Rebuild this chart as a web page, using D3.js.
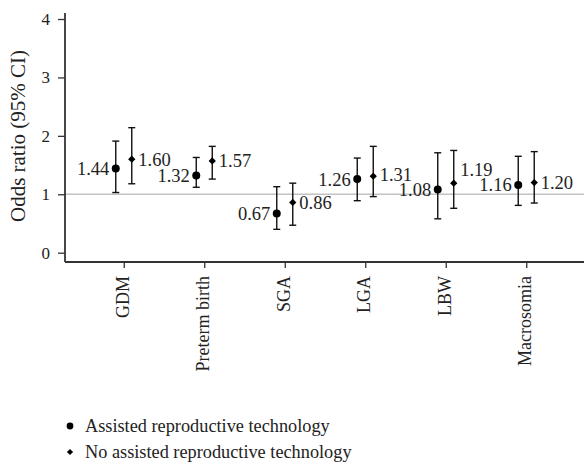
<!DOCTYPE html>
<html>
<head>
<meta charset="utf-8">
<script src="https://cdn.jsdelivr.net/npm/d3@7"></script>
<style>
  body { margin: 0; background: #fff; }
  svg text { font-family: "Liberation Serif", "DejaVu Serif", serif; fill: #222; }
</style>
</head>
<body>
<div class="graph"></div>
<script>
//data//
let outcomes = ['GDM', 'Preterm birth', 'SGA', 'LGA', 'LBW', 'Macrosomia'];

let artOR = [1.44, 1.32, 0.67, 1.26, 1.08, 1.16];
let artLow = [1.03, 1.12, 0.40, 0.89, 0.58, 0.81];
let artHigh = [1.91, 1.63, 1.13, 1.62, 1.71, 1.65];

let noArtOR = [1.60, 1.57, 0.86, 1.31, 1.19, 1.20];
let noArtLow = [1.18, 1.26, 0.47, 0.96, 0.76, 0.85];
let noArtHigh = [2.14, 1.82, 1.19, 1.82, 1.75, 1.73];

let yTicks = [0, 1, 2, 3, 4];
let legendLabels = ['Assisted reproductive technology', 'No assisted reproductive technology'];

//various constants//
let w = 584;
let h = 465;
let plotLeft = 65;
let plotTop = 19;
let plotBottom = 262;
let offset = 8;
let labelSize = 18.5;

let svg = d3.select('.graph')
    .append('svg')
    .attr('width', w)
    .attr('height', h);

let xScale = d3.scalePoint()
    .domain(outcomes)
    .range([plotLeft, w + 1])
    .padding(0.73);

let yScale = d3.scaleLinear()
    .domain([0, 4])
    .range([252.7, plotTop]);

// reference line at OR = 1
svg.append('line')
    .attr('x1', plotLeft)
    .attr('x2', w)
    .attr('y1', yScale(1))
    .attr('y2', yScale(1))
    .attr('stroke', '#c2c2c2')
    .attr('stroke-width', 1.5);

// axes
let yAxis = d3.axisLeft(yScale)
    .tickValues(yTicks)
    .tickFormat(d3.format('d'))
    .tickSize(7)
    .tickPadding(8)
    .tickSizeOuter(0);
let gy = svg.append('g')
    .attr('transform', 'translate(' + plotLeft + ',0)')
    .call(yAxis);
gy.select('.domain').attr('d', 'M0,' + (plotTop - 6) + 'V' + plotBottom);

let xAxis = d3.axisBottom(xScale).tickSize(6).tickSizeOuter(0);
let gx = svg.append('g')
    .attr('transform', 'translate(0,' + plotBottom + ')')
    .call(xAxis);
gx.select('.domain').attr('d', 'M' + plotLeft + ',0H' + w);

svg.selectAll('.domain').attr('stroke', '#333').attr('stroke-width', 1.8);
svg.selectAll('.tick line').attr('stroke', '#333').attr('stroke-width', 1.3);
svg.selectAll('g').attr('font-family', null);

gy.selectAll('text')
    .style('font-size', '17px')
    .attr('fill', '#222');

gx.selectAll('text')
    .style('font-size', '18px')
    .attr('fill', '#222')
    .attr('transform', 'rotate(-90)')
    .attr('text-anchor', 'end')
    .attr('dy', '0.25em')
    .attr('x', -14)
    .attr('y', 0);

svg.append('text')
    .attr('transform', 'translate(18,' + 136 + ') rotate(-90)')
    .attr('text-anchor', 'middle')
    .attr('dy', '0.35em')
    .style('font-size', '21px')
    .text('Odds ratio (95% CI)');

// error bars + points
function drawSeries(or, lo, hi, shift, symbolType, side) {
    let g = svg.append('g');
    let cx = (d, i) => xScale(outcomes[i]) + shift;

    g.selectAll('.whisker')
        .data(or)
        .enter()
        .append('line')
        .attr('x1', cx)
        .attr('x2', cx)
        .attr('y1', (d, i) => yScale(lo[i]))
        .attr('y2', (d, i) => yScale(hi[i]))
        .attr('stroke', '#111')
        .attr('stroke-width', 1.4);

    [lo, hi].forEach(arr => {
        g.selectAll(null)
            .data(arr)
            .enter()
            .append('line')
            .attr('x1', (d, i) => cx(d, i) - 3.5)
            .attr('x2', (d, i) => cx(d, i) + 3.5)
            .attr('y1', d => yScale(d))
            .attr('y2', d => yScale(d))
            .attr('stroke', '#111')
            .attr('stroke-width', 1.4);
    });

    let symbol = d3.symbol().type(symbolType).size(symbolType === d3.symbolCircle ? 50 : 34);
    g.selectAll('.pt')
        .data(or)
        .enter()
        .append('path')
        .attr('d', symbol)
        .attr('transform', (d, i) => 'translate(' + cx(d, i) + ',' + yScale(d) + ')')
        .attr('fill', '#000');

    return g.selectAll('.lab')
        .data(or)
        .enter()
        .append('text')
        .attr('class', 'lab')
        .attr('x', (d, i) => cx(d, i) + side * 6.5)
        .attr('y', d => yScale(d))
        .attr('dy', '0.35em')
        .attr('text-anchor', side < 0 ? 'end' : 'start')
        .style('font-size', labelSize + 'px')
        .text(d => d.toFixed(2));
}

let artLabels = drawSeries(artOR, artLow, artHigh, -offset, d3.symbolCircle, -1);
let noArtLabels = drawSeries(noArtOR, noArtLow, noArtHigh, offset, d3.symbolDiamond2, 1);

// nudge right-hand labels up when they run into the next group's left label
let clearance = 15;
let leftNodes = artLabels.nodes();
noArtLabels.each(function (d, i) {
    let next = leftNodes[i + 1];
    if (!next) return;
    let a = this.getBBox();
    let b = next.getBBox();
    let ay = +this.getAttribute('y');
    let by = +next.getAttribute('y');
    if (a.x + a.width > b.x && Math.abs(ay - by) < clearance) {
        d3.select(this).attr('y', by - clearance);
    }
});

// legend
let legend = svg.append('g');
let legendTypes = [d3.symbolCircle, d3.symbolDiamond2];
legend.selectAll('path')
    .data(legendLabels)
    .enter()
    .append('path')
    .attr('d', (d, i) => d3.symbol().type(legendTypes[i]).size(i === 0 ? 36 : 24)())
    .attr('transform', (d, i) => 'translate(70,' + (426 + i * 26) + ')')
    .attr('fill', '#000');

legend.selectAll('text')
    .data(legendLabels)
    .enter()
    .append('text')
    .attr('x', 85)
    .attr('y', (d, i) => 426 + i * 26)
    .attr('dy', '0.35em')
    .style('font-size', '18.3px')
    .text(d => d);
</script>
</body>
</html>
